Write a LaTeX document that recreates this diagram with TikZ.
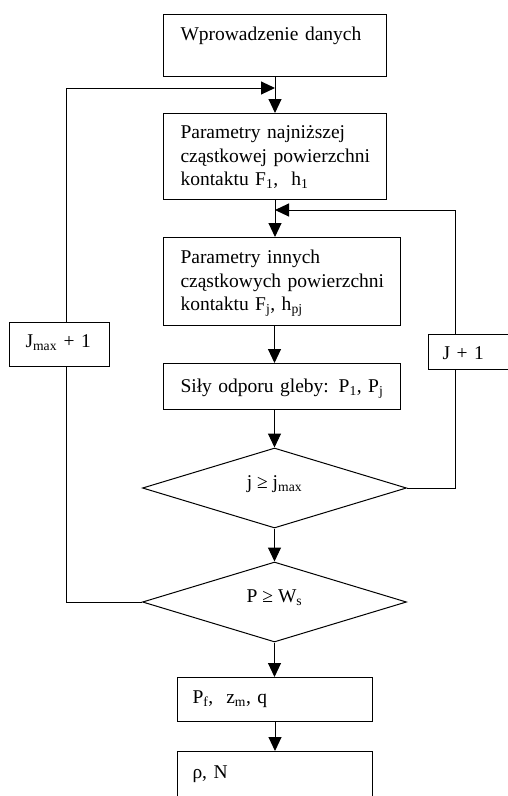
\documentclass[tikz,border=0pt]{standalone}
\usepackage{fontspec}
\setmainfont{Liberation Serif}
\usepackage{tikz}
\usetikzlibrary{
	arrows.meta,
	shapes.geometric
}

\begin{document}
\begin{tikzpicture}[x=1pt,y=-1pt,line width=1pt,
		font=\fontsize{19.5pt}{23.5pt}\selectfont,
		blok/.style={draw,fill=white,rectangle,anchor=north west,inner ysep=0pt,inner xsep=17pt,align=left,text width=#1},
		decyzja/.style={draw,fill=white,diamond,aspect=3.3,inner sep=0pt,text height=9pt,text depth=9pt,minimum width=264pt,minimum height=80pt},
		strz/.style={-{Triangle[length=14pt,width=13pt]}}
	]
	\useasboundingbox (0,0) rectangle (507,796);

	\node[blok=189pt,text height=26pt,text depth=36pt] (b1) at (163,14) {Wprowadzenie danych};
	\node[blok=189pt,text height=25pt,text depth=61pt] (b2) at (163,113)
		{Parametry najniższej\\cząstkowej~powierzchni\\kontaktu F\textsubscript{1},\ \ h\textsubscript{1}};
	\node[blok=203pt,text height=26pt,text depth=62pt] (b3) at (163,237)
		{Parametry innych\\cząstkowych~powierzchni\\kontaktu F\textsubscript{j}, h\textsubscript{pj}};
	\node[blok=203pt,text height=29pt,text depth=17pt] (b4) at (163,363) {Siły odporu gleby: P\textsubscript{1}, P\textsubscript{j}};
	\node[decyzja] (d1) at (274.5,488) {j ≥ j\textsubscript{max}};
	\node[decyzja] (d2) at (274.5,602) {P ≥ W\textsubscript{s}\hspace{28pt}};
	\node[blok=165pt,inner xsep=15pt,text height=26pt,text depth=18pt] (b5) at (177,677) {P\textsubscript{f},\ \ z\textsubscript{m}, q};
	\node[blok=165pt,inner xsep=15pt,text height=27pt,text depth=40pt] (b6) at (177,751) {ρ, N};
	\node[blok=68pt,inner xsep=16pt,text height=25pt,text depth=19pt] (jm) at (9,322) {J\textsubscript{max} + 1};
	\node[blok=72pt,inner xsep=14pt,text height=25pt,text depth=10pt] (jj) at (428,334) {J + 1};

	\coordinate (lewy) at (66,88);
	\coordinate (prawy) at (455,210);

	\draw[strz] (b1.south) -- (b2.north);
	\draw[strz] (b2.south) -- (b2.south |- b3.north);
	\draw[strz] (b3.south -| d1) -- (b4.north -| d1);
	\draw[strz] (b4.south -| d1) -- (d1.north);
	\draw[strz] (d1.south) -- (d2.north);
	\draw[strz] (d2.south) -- (d2.south |- b5.north);
	\draw[strz] (b5.south) -- (b6.north);

	\draw (d2.west) -| (jm.south -| lewy);
	\draw[strz] (jm.north -| lewy) |- (b1.south |- lewy);
	\draw (d1.east) -| (jj.south -| prawy);
	\draw[strz] (jj.north -| prawy) |- (b2.south |- prawy);
\end{tikzpicture}
\end{document}
